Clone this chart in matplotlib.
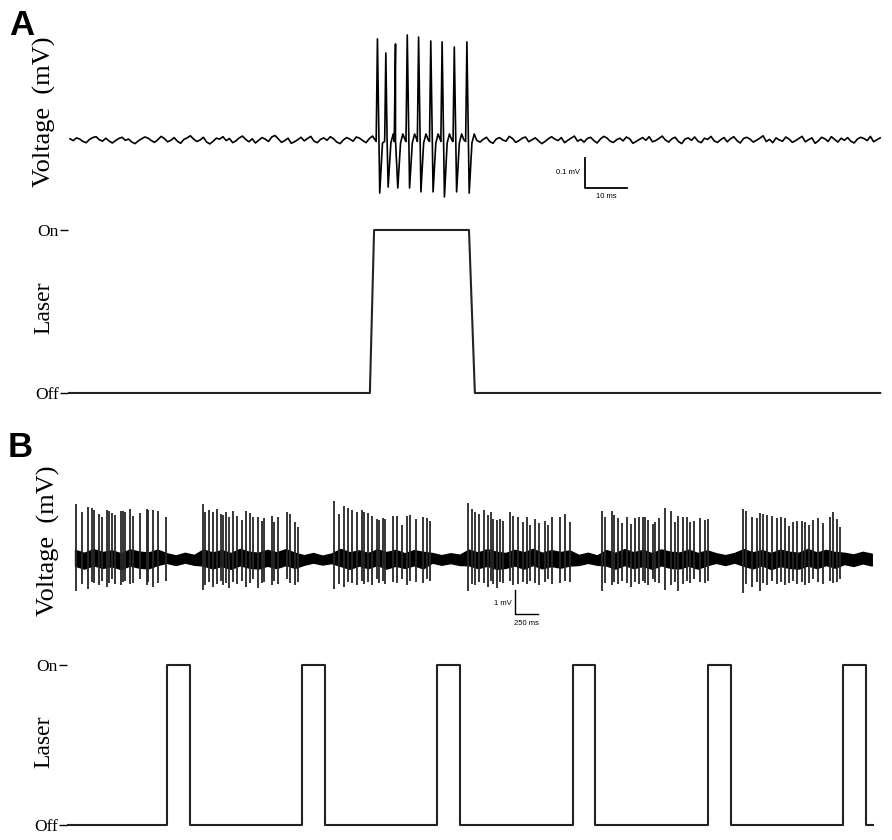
import numpy as np
import matplotlib
matplotlib.use("Agg")
import matplotlib.pyplot as plt

# ---------------- Panel A data (time in ms, voltage in mV) ----------------
A_trace_end = 192.9
A_noise_uV = [4, -2, 7, 3, -5, -9, 2, 8, 11, 1, -4, 6, -3, -10, -2, 5, 9, -1, 3, -7,
              -12, -3, 4, 10, 6, -2, -8, 1, 12, 5, -6, -1, 8, -4, -11, 2, 7, 14, 3, -5,
              0, 9, -7, -13, -4, 6, 3, 11, -2, 5, -9, -3, 7, 13, 2, -6, 4, -10, -1, 8,
              3, -5, 10, 15, 4, -8, -2, 6, -11, -6, 1, 9, -3, 5, 12, -4, -9, 2, 7, -1,
              11, 4, -7, -12, 0, 8, 3, -4, 10, 6, -2, -9, 5, 13, -1, -6, 3, 9, -8, -3,
              6, 12, 1, -5, -10, 4, 8, -2, 3, 11, -7, -1, 5, -12, -4, 7, 10, 2, -6, 9,
              -3, -9, 4, 14, 6, -1, -7, 2, 9, -5, -11, 3, 8, 0, -4, 12, 5, -8, -2, 6,
              10, -6, 1, 7, -3, -12, -5, 4, 11, 3, -2, 8, -9, -1, 6, 13, -4, 2, -7, 5,
              9, -2, -10, 3, 12, 7, -4, -8, 1, 6, -3, 10, 4, -11, -5, 2, 8, -1, 11, -6,
              -2, 5, 13, 0, -7, 4, 9, -5, -12, 3, 7, -1, 10, -4, -9, 6, 2, 12, -3, -8,
              1, 8, -6, 4, 11, -2, -10, 5, 9, 3, -7, -1, 6, 14, -5, 2, -9, 7, 0, -4,
              10, 3, -8, -2, 5, 12, -6, 1, 7, -11, -3, 9, 4, -5, 11, 2, -7, 6, -1, 8,
              -4, -10, 3, 9, 5, -2, 12, -6, 1, 7]
A_spike_t = [73.2, 75.2, 77.5, 80.3, 83.0, 85.9, 88.6, 91.5, 94.5]
A_spike_peak = [0.337, 0.290, 0.320, 0.350, 0.343, 0.330, 0.327, 0.310, 0.327]
A_spike_trough = [-0.177, -0.157, -0.160, -0.160, -0.173, -0.173, -0.190, -0.173, -0.177]
A_laser_t = [-0.476, 71.4, 72.4, 95.0, 96.4, 192.9]
A_laser_state = [0, 0, 1, 1, 0, 0]

# ---------------- Panel B data (time in s, voltage in mV) ----------------
B_trace_end = 8.66
B_band_upper = [0.38, 0.26, 0.41, 0.29, 0.36, 0.24, 0.40, 0.31, 0.27, 0.39,
                0.24, 0.15, 0.26, 0.17,
                0.40, 0.27, 0.37, 0.25, 0.42, 0.30, 0.26, 0.38, 0.28, 0.41, 0.26,
                0.16, 0.25, 0.14, 0.23,
                0.42, 0.28, 0.36, 0.25, 0.40, 0.29, 0.38, 0.24, 0.37, 0.30,
                0.25, 0.16, 0.24, 0.18,
                0.39, 0.27, 0.41, 0.30, 0.25, 0.38, 0.28, 0.42, 0.26, 0.37, 0.29, 0.36,
                0.17, 0.26, 0.15,
                0.37, 0.26, 0.41, 0.28, 0.38, 0.24, 0.40, 0.30, 0.27, 0.39, 0.25, 0.36,
                0.24, 0.16, 0.25,
                0.41, 0.28, 0.37, 0.25, 0.39, 0.30, 0.26, 0.42, 0.27, 0.38, 0.29,
                0.26, 0.19, 0.30, 0.22]
B_band_lower = [-0.28, -0.40, -0.26, -0.37, -0.30, -0.42, -0.27, -0.36, -0.39, -0.25,
                -0.16, -0.25, -0.15, -0.24,
                -0.27, -0.39, -0.29, -0.41, -0.26, -0.36, -0.40, -0.28, -0.38, -0.25, -0.37,
                -0.24, -0.15, -0.23, -0.17,
                -0.29, -0.41, -0.27, -0.38, -0.25, -0.40, -0.28, -0.37, -0.26, -0.39,
                -0.15, -0.24, -0.17, -0.25,
                -0.26, -0.38, -0.28, -0.41, -0.37, -0.27, -0.40, -0.25, -0.39, -0.29, -0.36, -0.27,
                -0.25, -0.16, -0.24,
                -0.27, -0.40, -0.25, -0.38, -0.29, -0.41, -0.26, -0.37, -0.39, -0.28, -0.40, -0.26,
                -0.16, -0.25, -0.15,
                -0.28, -0.39, -0.26, -0.42, -0.29, -0.37, -0.40, -0.27, -0.38, -0.25, -0.36,
                -0.21, -0.29, -0.18, -0.27]
B_spike_t = [
    # burst 1
    0.01, 0.073, 0.145, 0.181, 0.207, 0.264, 0.290, 0.344, 0.373, 0.399, 0.435,
    0.497, 0.525, 0.543, 0.598, 0.634, 0.707, 0.779, 0.797, 0.851, 0.905, 0.989,
    # burst 2
    1.395, 1.413, 1.460, 1.497, 1.540, 1.584, 1.612, 1.641, 1.677, 1.721, 1.758,
    1.812, 1.859, 1.902, 1.938, 1.993, 2.029, 2.054, 2.138, 2.163, 2.210, 2.301,
    2.337, 2.391, 2.427,
    # burst 3
    2.815, 2.873, 2.924, 2.971, 3.008, 3.062, 3.116, 3.145, 3.188, 3.225, 3.279,
    3.308, 3.345, 3.370, 3.460, 3.497, 3.551, 3.612, 3.641, 3.707, 3.779, 3.823, 3.859,
    # burst 4
    4.275, 4.312, 4.348, 4.395, 4.446, 4.492, 4.518, 4.547, 4.590, 4.620, 4.656,
    4.728, 4.764, 4.818, 4.866, 4.910, 4.946, 5.000, 5.047, 5.109, 5.145, 5.182,
    5.272, 5.326, 5.380,
    # burst 5
    5.725, 5.761, 5.834, 5.859, 5.906, 5.942, 5.997, 6.040, 6.087, 6.134, 6.171,
    6.196, 6.232, 6.279, 6.304, 6.351, 6.413, 6.475, 6.522, 6.558, 6.605, 6.649,
    6.685, 6.728, 6.793, 6.848, 6.884,
    # burst 6
    7.264, 7.293, 7.355, 7.410, 7.446, 7.475, 7.518, 7.573, 7.627, 7.670, 7.717,
    7.764, 7.808, 7.844, 7.899, 7.935, 7.982, 8.025, 8.080, 8.134, 8.207, 8.236,
    8.279, 8.315]
B_spike_peak = [
    2.29, 1.94, 2.18, 2.12, 2.04, 1.87, 1.74, 2.04, 1.99, 1.90, 1.85,
    1.99, 1.99, 1.94, 2.08, 1.81, 1.90, 2.08, 2.04, 2.04, 2.01, 1.74,
    2.29, 1.94, 2.04, 1.94, 2.08, 1.875, 1.85, 1.94, 1.74, 1.99, 1.81,
    1.625, 1.99, 1.90, 1.74, 1.76, 1.60, 1.71, 1.81, 1.53, 1.76, 1.94,
    1.875, 1.53, 1.32,
    2.43, 1.875, 2.22, 2.12, 2.04, 1.94, 2.04, 1.94, 1.90, 1.81, 1.67,
    1.625, 1.71, 1.67, 1.81, 1.81, 1.43, 1.81, 1.85, 1.67, 1.74, 1.71, 1.57,
    2.32, 2.08, 1.94, 1.875, 2.04, 1.85, 1.94, 1.67, 1.625, 1.67, 1.60,
    1.94, 1.81, 1.76, 1.53, 1.74, 1.43, 1.67, 1.49, 1.60, 1.43, 1.74,
    1.76, 1.875, 1.53,
    2.01, 1.76, 1.99, 1.85, 1.71, 1.49, 1.74, 1.46, 1.71, 1.74, 1.76,
    1.74, 1.625, 1.46, 1.53, 1.71, 2.12, 2.01, 1.53, 1.81, 1.76, 1.74,
    1.53, 1.60, 1.71, 1.625, 1.67,
    2.08, 2.01, 1.76, 1.71, 1.90, 1.875, 1.85, 1.81, 1.71, 1.76, 1.71,
    1.39, 1.53, 1.57, 1.60, 1.53, 1.43, 1.625, 1.71, 1.49, 1.76, 1.94,
    1.67, 1.32]
B_spike_trough = [
    -1.35, -1.05, -1.25, -0.95, -1.0, -1.1, -0.9, -1.15, -1.0, -0.85, -1.05,
    -1.1, -0.95, -0.9, -1.05, -1.0, -0.85, -1.1, -0.95, -1.15, -1.0, -0.9,
    -1.3, -1.1, -0.95, -1.15, -1.05, -0.9, -1.1, -1.0, -1.2, -0.95, -1.05,
    -0.9, -1.15, -1.0, -0.85, -1.2, -1.0, -0.95, -1.1, -0.9, -1.05, -0.85,
    -1.0, -1.1, -0.95,
    -1.25, -1.05, -1.15, -0.95, -1.0, -1.1, -0.9, -1.05, -0.95, -1.1, -0.85,
    -1.0, -0.9, -1.05, -0.95, -1.0, -0.85, -1.1, -0.9, -0.95, -1.0, -0.85, -0.9,
    -1.35, -1.05, -1.1, -0.95, -1.0, -1.15, -0.9, -1.05, -1.2, -0.95, -1.0,
    -0.9, -1.1, -1.05, -0.95, -1.05, -0.9, -1.0, -1.1, -0.95, -0.85, -1.05,
    -1.0, -0.9, -0.95,
    -1.35, -1.0, -1.1, -0.95, -1.05, -0.9, -1.0, -1.15, -0.95, -1.05, -0.9,
    -1.0, -1.1, -0.85, -0.95, -1.0, -1.3, -1.1, -0.95, -1.35, -1.05, -0.9,
    -1.0, -0.85, -0.95, -1.0, -0.9,
    -1.4, -1.05, -1.15, -0.95, -1.35, -1.0, -1.1, -0.9, -1.05, -0.95, -1.1,
    -1.0, -0.9, -1.05, -0.95, -1.1, -1.0, -0.85, -0.95, -1.05, -0.9, -1.0,
    -0.95, -0.85]
B_laser_on = [1.00, 2.47, 3.94, 5.41, 6.88, 8.35]
B_laser_dur = 0.245
B_laser_start, B_laser_end = -0.087, 8.67

# ---------------- figure ----------------
W, H = 892, 840
fig = plt.figure(figsize=(W / 100, H / 100), dpi=100)
SERIF = ['Liberation Serif', 'DejaVu Serif']
SANS = ['Liberation Sans', 'DejaVu Sans']


def add_ax(l, r, t, b):
    ax = fig.add_axes([l / W, 1 - b / H, (r - l) / W, (b - t) / H])
    for s in ax.spines.values():
        s.set_visible(False)
    ax.set_xticks([])
    ax.set_yticks([])
    ax.patch.set_alpha(0)
    return ax


def laser_ticks(ax):
    ax.set_yticks([0, 1])
    ax.set_yticklabels(['Off', 'On'], fontfamily=SERIF, fontsize=12.5)
    ax.tick_params(axis='y', length=5.5, width=1.0, pad=1.0, color='black')


# ---- Panel A voltage ----
axAv = add_ax(68, 885, 25, 205)
axAv.set_xlim(-0.476, 194.05)
axAv.set_ylim(-0.2167, 0.3833)
nt = np.linspace(0, A_trace_end, len(A_noise_uV))
nv = np.array(A_noise_uV) / 1000.0
keep = np.ones(len(nt), bool)
for ts in A_spike_t:
    keep &= ~((nt > ts - 0.5) & (nt < ts + 2.3))
tt = list(nt[keep])
vv = list(nv[keep])
shape_dt = [-0.3, 0.0, 0.55, 1.2, 1.75, 2.3]
for ts, pk, tr in zip(A_spike_t, A_spike_peak, A_spike_trough):
    vals = [-0.005, pk, tr, -0.01, 0.02, 0.0]
    tt += [ts + d for d in shape_dt]
    vv += vals
order = np.argsort(tt)
axAv.plot(np.array(tt)[order], np.array(vv)[order], color='black', lw=1.2)
# scale bar
axAv.plot([122.6, 122.6, 132.6], [-0.06, -0.16, -0.16], color='black', lw=1.3)
axAv.text(121.4, -0.11, '0.1 mV', ha='right', va='center', fontsize=5.5, fontfamily=SANS)
axAv.text(127.6, -0.187, '10 ms', ha='center', va='center', fontsize=5.5, fontfamily=SANS)

# ---- Panel A laser ----
axAl = add_ax(68, 885, 222, 400)
axAl.set_xlim(-0.476, 194.05)
axAl.set_ylim(-0.043, 1.049)
axAl.plot(A_laser_t, A_laser_state, color='#222222', lw=1.5)
laser_ticks(axAl)

# ---- Panel B voltage ----
axBv = add_ax(67, 885, 495, 630)
axBv.set_xlim(-0.087, 8.804)
axBv.set_ylim(-2.958, 2.667)
bt = np.linspace(0, B_trace_end, len(B_band_upper))
axBv.fill_between(bt, B_band_lower, B_band_upper, color='black', lw=1.0, edgecolor='black')
axBv.vlines(B_spike_t, B_spike_trough, B_spike_peak, color='#262626', lw=1.3)
axBv.plot([4.783, 4.783, 5.033], [-1.29, -2.29, -2.29], color='black', lw=1.0)
axBv.text(4.75, -1.85, '1 mV', ha='right', va='center', fontsize=5.5, fontfamily=SANS)
axBv.text(4.908, -2.667, '250 ms', ha='center', va='center', fontsize=5.5, fontfamily=SANS)

# ---- Panel B laser ----
axBl = add_ax(67, 885, 655, 832)
axBl.set_xlim(-0.087, 8.804)
axBl.set_ylim(-0.04375, 1.0625)
lt = [B_laser_start]
ls = [0]
for on in B_laser_on:
    lt += [on, on, on + B_laser_dur, on + B_laser_dur]
    ls += [0, 1, 1, 0]
lt.append(B_laser_end)
ls.append(0)
axBl.plot(lt, ls, color='#222222', lw=1.5)
laser_ticks(axBl)

# ---- labels ----
def vlabel(x, y, s, size):
    fig.text(x / W, 1 - y / H, s, rotation=90, ha='center', va='center',
             fontsize=size, fontfamily=SERIF)

vlabel(44, 112, 'Voltage  (mV)', 19)
vlabel(44, 308, 'Laser', 17)
vlabel(48, 541, 'Voltage  (mV)', 19)
vlabel(44, 742, 'Laser', 17)

fig.text(9 / W, 1 - 35 / H, 'A', fontsize=25, fontweight='bold', fontfamily=SANS,
         ha='left', va='baseline')
fig.text(8 / W, 1 - 457 / H, 'B', fontsize=25, fontweight='bold', fontfamily=SANS,
         ha='left', va='baseline')

fig.savefig('out.png', dpi=100, facecolor='white')
